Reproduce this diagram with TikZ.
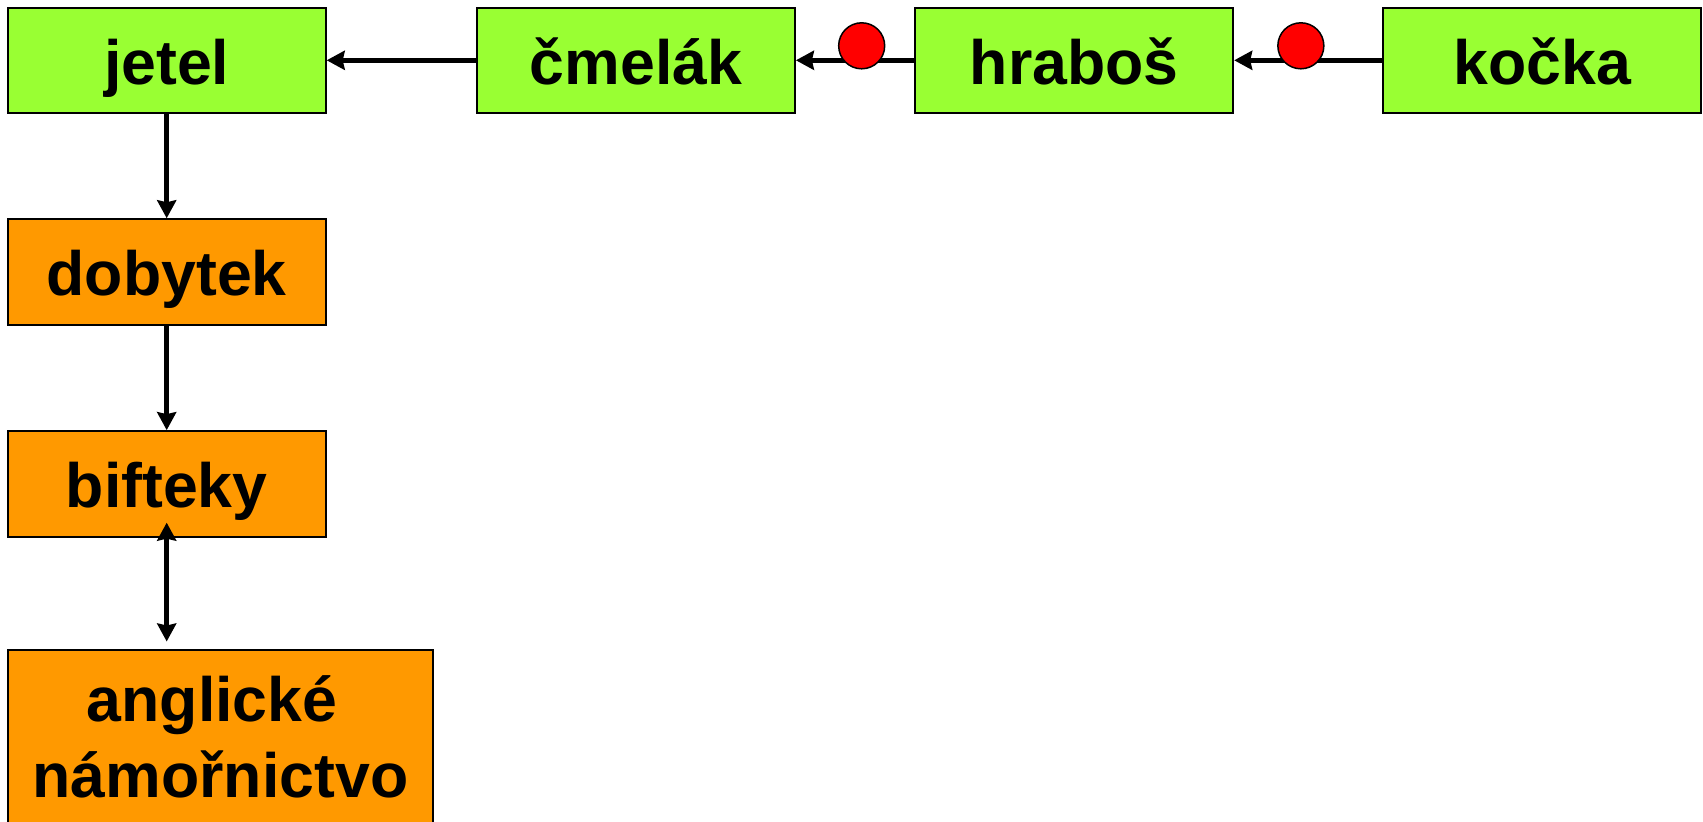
\documentclass[tikz,border=0pt]{standalone}
\usepackage{fontspec}
\setmainfont{Liberation Sans}
\usetikzlibrary{arrows.meta}
\definecolor{leafgreen}{RGB}{153,255,51}
\definecolor{boxorange}{RGB}{255,153,0}
\begin{document}
\begin{tikzpicture}[x=1pt,y=-1pt,
  base/.style={draw=black, line width=2pt, inner sep=0pt, minimum width=318pt,
    minimum height=105.5pt, font=\fontsize{62.6}{76}\selectfont\bfseries},
  oneline/.style={text height=60.7pt, text depth=13pt},
  greenbox/.style={base, oneline, fill=leafgreen},
  orangebox/.style={base, fill=boxorange},
  link/.style={line width=5.5pt, -{Stealth[length=18pt,width=19pt,inset=2pt]}},
  inhibit/.style={circle, draw=black, line width=1.5pt, fill=red, minimum size=46pt, inner sep=0pt}
]
\useasboundingbox (0,0) rectangle (1703,822);
\clip (0,0) rectangle (1703,822);

% food chain across the top
\node[greenbox] (jetel)  at (166.7,60.3)  {jetel};
\node[greenbox] (cmelak) at (635.9,60.3)  {čmelák};
\node[greenbox] (hrabos) at (1074.2,60.3) {hraboš};
\node[greenbox] (kocka)  at (1542.3,60.3) {kočka};

% consequences down the left side
\node[orangebox, oneline] (dobytek) at (166.7,272)   {dobytek};
\node[orangebox, oneline] (bifteky) at (166.7,483.9) {bifteky};
\node[orangebox, minimum width=425.8pt, minimum height=175pt, align=center]
  (namornictvo) at (220.5,737) {anglické\hspace*{17pt}\\námořnictvo};

% horizontal links
\draw[link] (cmelak) -- (jetel);
\draw[link] (hrabos) -- node[pos=0.444, yshift=14.5pt, inhibit] (i1) {} (cmelak);
\draw[link] (kocka)  -- node[pos=0.55,  yshift=14.5pt, inhibit] (i2) {} (hrabos);

% vertical links
\draw[link] (jetel) -- (dobytek);
\draw[link] (dobytek) -- (bifteky);
\draw[line width=5.5pt, {Stealth[length=18pt,width=19pt,inset=2pt]}-{Stealth[length=18pt,width=19pt,inset=2pt]},
  shorten <=-15pt, shorten >=7pt] (bifteky) -- (bifteky |- namornictvo.north);
\end{tikzpicture}
\end{document}
